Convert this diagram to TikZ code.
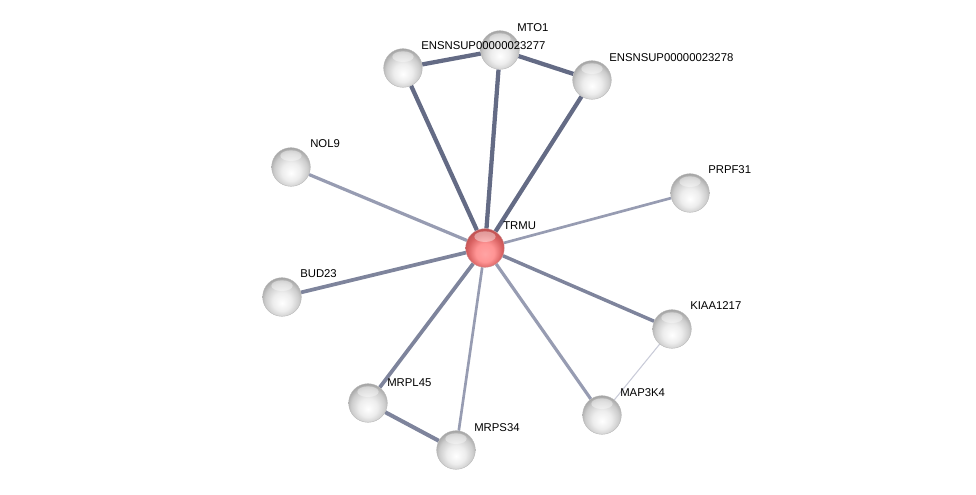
\documentclass[tikz,border=0pt]{standalone}
\usepackage{fontspec}
\setmainfont{Liberation Sans}
\usepackage{tikz}
\usetikzlibrary{backgrounds, calc}
\definecolor{edgedark}{HTML}{646B85}
\definecolor{edgemid}{HTML}{7E849C}
\definecolor{edgelight}{HTML}{979CB2}
\definecolor{edgefaint}{HTML}{C9CBD8}
\definecolor{ballrim}{HTML}{9A9A9A}
\definecolor{redrim}{HTML}{A8454B}
\pgfdeclareradialshading{grayball}{\pgfpoint{0bp}{-8bp}}{
  color(0bp)=(white); color(12bp)=(white!93!black); color(22bp)=(white!80!black);
  color(30bp)=(white!60!black); color(50bp)=(white!52!black)}
\pgfdeclareradialshading{redball}{\pgfpoint{0bp}{-8bp}}{
  color(0bp)=(white!55!red!55!pink); color(12bp)=(red!42!white); color(22bp)=(red!55!white!85!black);
  color(30bp)=(red!60!black!70!white); color(50bp)=(red!50!black)}
\tikzset{
  % Protein balls
  protein/.style={
    circle, minimum size=29pt, inner sep=0pt,
    shading=#1, draw=ballrim!70, line width=0.3pt,
    path picture={
      \fill[white, opacity=0.4] ([yshift=-6pt]path picture bounding box.north)
        ellipse [x radius=8pt, y radius=4pt];
    },
  },
  protein/.default={grayball},
  % Gene names
  genelabel/.style={anchor=west, font=\fontsize{8.5}{10}\selectfont, inner sep=0pt, text=black},
  % Interaction links
  link/.style={line width=#1, color=edgedark},
  link/.default={3pt},
}

\begin{document}
\begin{tikzpicture}[x=0.75pt, y=-0.75pt]
  \useasboundingbox (0,0) rectangle (976,495);

  % Query protein
  \node[protein=redball, draw=redrim!60] (trmu) at (485, 248) {};

  % Partners
  \node[protein] (mto1) at (500, 50) {};
  \node[protein] (ens277) at (403, 68) {};
  \node[protein] (ens278) at (592, 80) {};
  \node[protein] (nol9) at (291, 167) {};
  \node[protein] (prpf31) at (690, 193) {};
  \node[protein] (bud23) at (282, 297) {};
  \node[protein] (kiaa1217) at (672, 329) {};
  \node[protein] (map3k4) at (602, 415) {};
  \node[protein] (mrpl45) at (368, 403) {};
  \node[protein] (mrps34) at (456, 450) {};

  % Names
  \node[genelabel] (trmu-lbl) at ([shift={(18,-22)}]trmu) {TRMU};
  \node[genelabel] (mto1-lbl) at ([shift={(17,-22)}]mto1) {MTO1};
  \node[genelabel] (ens277-lbl) at ([shift={(18,-22)}]ens277) {ENSNSUP00000023277};
  \node[genelabel] (ens278-lbl) at ([shift={(17,-22)}]ens278) {ENSNSUP00000023278};
  \node[genelabel] (nol9-lbl) at ([shift={(19,-23)}]nol9) {NOL9};
  \node[genelabel] (prpf31-lbl) at ([shift={(18,-23)}]prpf31) {PRPF31};
  \node[genelabel] (bud23-lbl) at ([shift={(18,-23)}]bud23) {BUD23};
  \node[genelabel] (kiaa1217-lbl) at ([shift={(18,-23)}]kiaa1217) {KIAA1217};
  \node[genelabel] (map3k4-lbl) at ([shift={(18,-22)}]map3k4) {MAP3K4};
  \node[genelabel] (mrpl45-lbl) at ([shift={(19,-20)}]mrpl45) {MRPL45};
  \node[genelabel] (mrps34-lbl) at ([shift={(18,-22)}]mrps34) {MRPS34};

  % Links
  \begin{scope}[on background layer]
    \draw[link=3.2pt] (trmu) -- (mto1);
    \draw[link=3.2pt] (trmu) -- (ens277);
    \draw[link=3.2pt] (trmu) -- (ens278);
    \draw[link=3.2pt] (mto1) -- (ens277);
    \draw[link=3.2pt] (mto1) -- (ens278);
    \draw[link=2.4pt, edgelight] (trmu) -- (nol9);
    \draw[link=2pt, edgelight] (trmu) -- (prpf31);
    \draw[link=2.8pt, edgemid] (trmu) -- (bud23);
    \draw[link=2.6pt, edgemid] (trmu) -- (kiaa1217);
    \draw[link=2.4pt, edgelight] (trmu) -- (map3k4);
    \draw[link=2.8pt, edgemid] (trmu) -- (mrpl45);
    \draw[link=2pt, edgelight] (trmu) -- (mrps34);
    \draw[link=3pt, edgemid] (mrpl45) -- (mrps34);
    \draw[link=0.8pt, edgefaint] (kiaa1217) -- (map3k4);
  \end{scope}

\end{tikzpicture}
\end{document}
